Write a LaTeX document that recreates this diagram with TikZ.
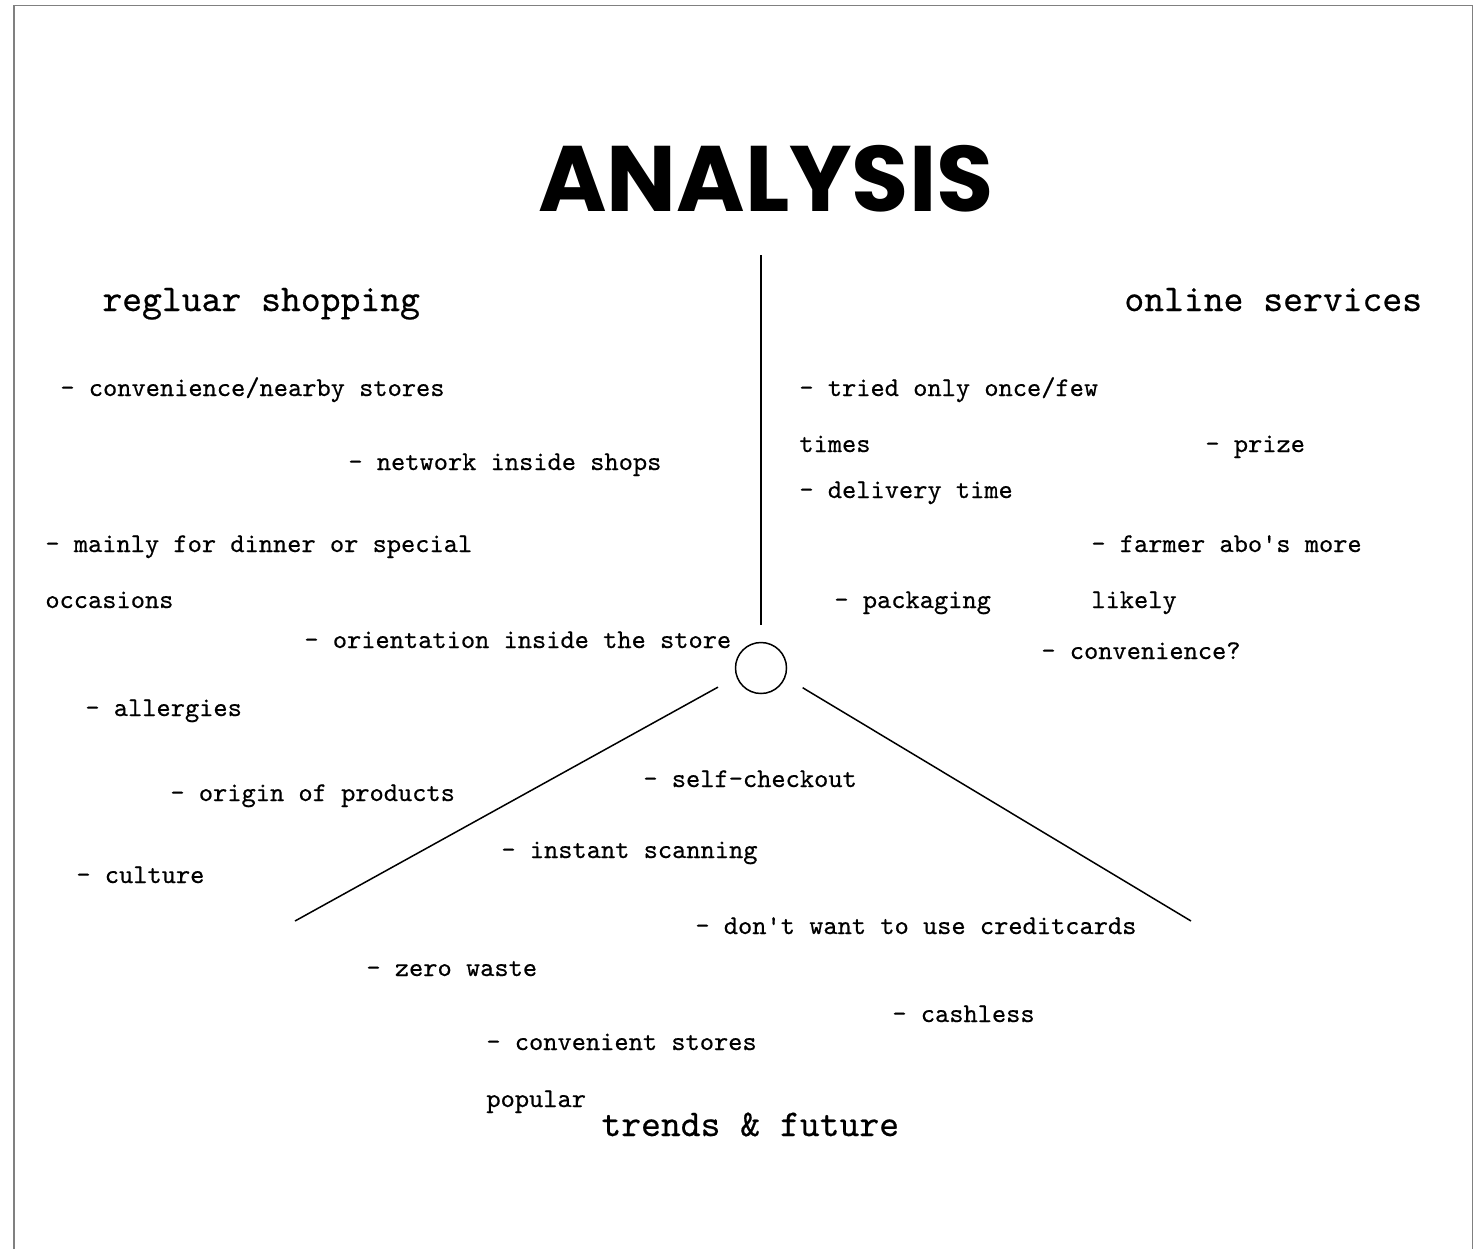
\documentclass[tikz,border=0pt]{standalone}
\usepackage{fontspec}
\usepackage{tikz}
\setmonofont{lmmono10-regular.otf}[FakeBold=0.5]
\newfontfamily\titlefont{Poppins}
\definecolor{framegray}{RGB}{128,128,128}
\tikzstyle{note} =[font=\ttfamily\fontsize{13.55}{16}\selectfont, anchor=base west, inner sep=0pt]
\tikzstyle{heading} =[font=\ttfamily\fontsize{18.9}{22}\selectfont, anchor=base west, inner sep=0pt]
\tikzstyle{title} =[font=\titlefont\bfseries\fontsize{46.5}{50}\selectfont, anchor=base, inner sep=0pt]
\tikzstyle{hubnode} =[draw, circle, line width=0.75pt, minimum size=25.5pt, inner sep=0pt]
\tikzstyle{spoke} =[line width=0.75pt]

\begin{document}
\begin{tikzpicture}[x=0.5pt, y=-0.5pt]
		\useasboundingbox (0,0) rectangle (1479,1249);
		\draw[framegray, line width=0.75pt] (14,1249) -- (14,5.5) -- (1472.5,5.5) -- (1472.5,1249);

		\node[title] (analysis) at (766,211) {ANALYSIS};

		\node[hubnode] (hub) at (761,668) {};
		\coordinate (topend) at (761,255);
		\coordinate (leftend) at (295,921);
		\coordinate (rightend) at (1191,921);
		\draw[spoke, shorten <=8.5pt] (hub.north) -- (topend);
		\draw[spoke, shorten <=10.5pt] (hub.200) -- (leftend);
		\draw[spoke, shorten <=10pt] (hub.339) -- (rightend);

		\node[heading] (regular) at (102,311) {regluar shopping};
		\node[heading] (online) at (1124,311) {online services};
		\node[heading] (trends) at (601,1136) {trends \& future};

		\node[note] (nearby) at (60,396) {- convenience/nearby stores};
		\node[note] (network) at (348,470) {- network inside shops};
		\node[note] (dinner) at (45,552) {- mainly for dinner or special};
		\node[note] (occasions) at (45,608) {occasions};
		\node[note] (orientation) at (304,648) {- orientation inside the store};
		\node[note] (allergies) at (85,716) {- allergies};
		\node[note] (origin) at (170,801) {- origin of products};
		\node[note] (culture) at (76,883) {- culture};

		\node[note] (tried) at (799,396) {- tried only once/few};
		\node[note] (times) at (799,452) {times};
		\node[note] (prize) at (1205,452) {- prize};
		\node[note] (delivery) at (799,498) {- delivery time};
		\node[note] (farmer) at (1091,552) {- farmer abo's more};
		\node[note] (packaging) at (834,608) {- packaging};
		\node[note] (likely) at (1091,608) {likely};
		\node[note] (convenience) at (1041,659) {- convenience?};

		\node[note] (checkout) at (643,787) {- self-checkout};
		\node[note] (scanning) at (501,858) {- instant scanning};
		\node[note] (creditcards) at (695,934) {- don't want to use creditcards};
		\node[note] (zerowaste) at (366,976) {- zero waste};
		\node[note] (cashless) at (892,1022) {- cashless};
		\node[note] (stores) at (486,1050) {- convenient stores};
		\node[note] (popular) at (486,1107) {popular};
	\end{tikzpicture}
\end{document}
